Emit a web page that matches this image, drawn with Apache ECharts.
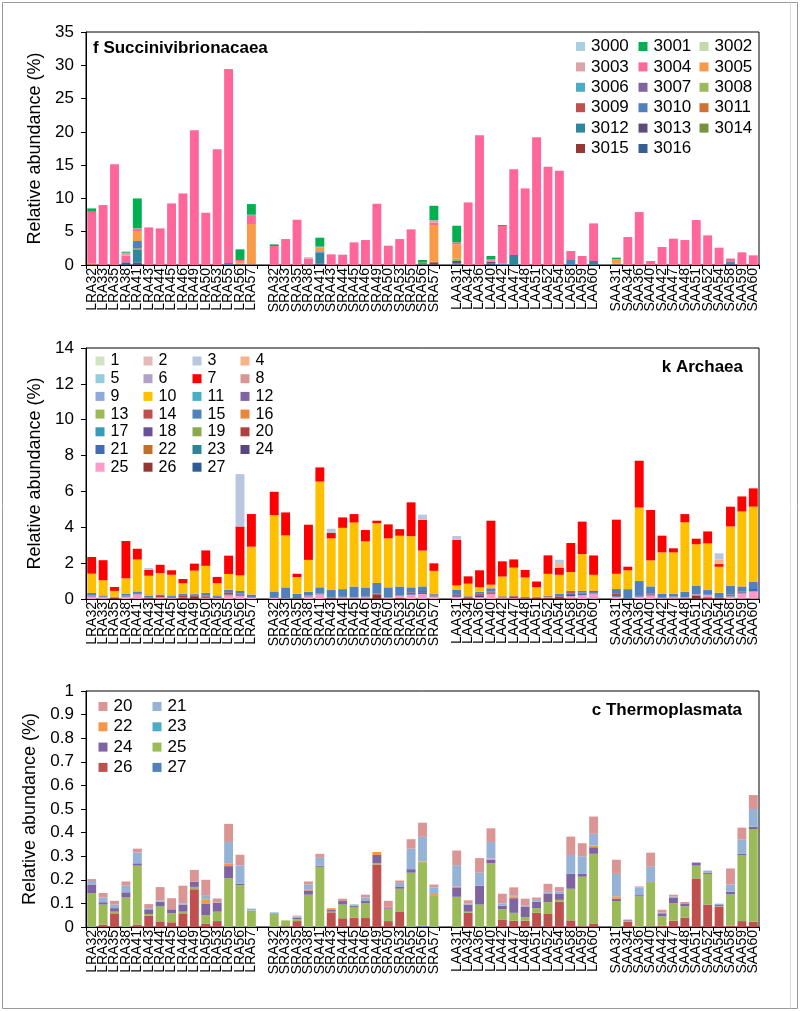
<!DOCTYPE html>
<html>
<head>
<meta charset="utf-8">
<script src="https://cdn.jsdelivr.net/npm/echarts@6/dist/echarts.min.js"></script>
<style>
html,body{margin:0;padding:0;background:#fff;}
#chart{width:800px;height:1011px;}
</style>
</head>
<body>
<div id="chart"></div>
<script>
// ---------- categories ----------
const samplesLRA = ['LRA32','LRA33','LRA35','LRA38','LRA41','LRA43','LRA44','LRA45','LRA46','LRA49','LRA50','LRA53','LRA55','LRA56','LRA57'];
const samplesSRA = ['SRA32','SRA33','SRA35','SRA38','SRA41','SRA43','SRA44','SRA45','SRA46','SRA49','SRA50','SRA53','SRA55','SRA56','SRA57'];
const samplesLAA = ['LAA31','LAA34','LAA36','LAA40','LAA42','LAA47','LAA48','LAA51','LAA52','LAA54','LAA58','LAA59','LAA60'];
const samplesSAA = ['SAA31','SAA34','SAA36','SAA40','SAA42','SAA47','SAA48','SAA51','SAA52','SAA54','SAA58','SAA59','SAA60'];

// ---------- panel f: Succinivibrionacaea (order: LRA | SRA | LAA | SAA) ----------
const f3001 = [0.5,0,0,0.15,4.5,0,0,0,0,0,0,0,0.1,1.6,1.6,
               0.25,0,0,0,1.35,0,0,0,0,0,0,0,0,0.35,2.15,
               2.5,0,0,0.5,0.15,0,0,0,0,0,0,0,0,
               0.2,0,0,0,0,0,0,0,0,0,0,0,0];
const f3003 = [0,0,0,0.45,0.1,0,0,0,0,0,0,0,0,0,0.05,
               0,0,0,0.2,0.1,0,0,0,0,0,0,0,0,0,0.4,
               0,0,0,0,0,0,0,0,0,0,0,0,0,
               0,0,0,0,0,0,0,0,0,0,0.1,0,0];
const f3004 = [7.8,9.0,15.15,1.0,0.4,5.65,5.5,9.25,10.75,20.25,7.85,17.4,29.0,0.25,1.35,
               2.85,3.9,6.8,0.9,0.1,1.6,1.55,3.4,3.75,9.2,2.9,3.9,5.35,0,0.35,
               0.3,9.4,19.5,0.2,5.65,12.9,11.5,19.2,14.75,14.15,1.35,1.35,5.65,
               0.1,4.2,7.95,0.6,2.7,3.95,3.75,6.75,4.45,2.6,0.35,1.9,1.45];
const f3005 = [0,0,0,0,1.4,0,0,0,0,0,0,0,0,0.3,6.05,
               0,0,0,0,0.5,0,0,0,0,0,0,0,0,0,5.5,
               2.1,0,0,0.2,0,0,0,0,0,0,0,0,0,
               0.6,0,0,0,0,0,0,0,0,0,0,0,0];
const f3008 = [0,0,0,0,0,0,0,0,0,0,0,0,0,0,0,
               0,0,0,0,0,0,0,0,0,0,0,0,0,0,0,
               0.4,0,0,0,0,0,0,0,0,0,0,0,0,
               0,0,0,0,0,0,0,0,0,0,0,0,0];
const f3010 = [0,0,0,0,1.1,0,0,0,0,0,0,0,0.3,0,0,
               0,0,0,0,0.2,0,0,0,0,0,0,0,0,0,0,
               0,0,0,0,0.2,0,0,0,0,0,0.75,0,0,
               0,0,0,0,0,0,0,0,0,0,0.45,0,0];
const f3011 = [0.2,0,0,0,0.2,0,0,0,0,0,0,0,0,0.1,0,
               0,0,0,0,0,0,0,0,0,0,0,0,0,0,0.2,
               0,0,0,0,0,0,0,0,0,0,0,0,0,
               0.1,0,0,0,0,0,0,0,0,0,0,0,0];
const f3012 = [0,0,0,0,1.9,0,0,0,0,0,0,0,0,0,0,
               0,0,0,0,1.6,0,0,0,0,0,0,0,0,0,0,
               0,0,0,0,0,1.5,0,0,0,0,0,0,0.6,
               0,0,0,0,0,0,0,0,0,0,0,0,0];
const f3013 = [0,0,0,0,0.4,0,0,0,0,0,0,0,0,0.1,0.1,
               0,0,0,0,0.25,0,0,0,0,0,0,0,0,0,0.3,
               0.3,0,0,0.25,0,0,0,0,0,0,0,0,0,
               0.1,0,0,0,0,0,0,0,0,0,0.1,0,0];
const f3014 = [0,0,0,0,0,0,0,0,0,0,0,0,0,0,0,
               0,0,0,0,0,0,0,0,0,0,0,0,0,0.3,0,
               0.2,0,0,0,0,0,0,0,0,0,0,0,0,
               0,0,0,0,0,0,0,0,0,0,0,0,0];
const f3016 = [0,0,0,0.4,0,0,0,0,0,0,0,0,0,0,0,
               0,0,0,0.05,0,0,0,0,0,0,0,0,0,0.1,0,
               0.1,0,0,0.2,0,0,0,0,0,0,0,0,0,
               0,0,0,0,0,0,0,0,0,0,0,0,0];

// ---------- panel c: Thermoplasmata (also groups 20-27 of panel k) ----------
const c20 = [0.008,0.019,0.016,0.018,0.017,0.017,0.056,0.047,0.075,0.05,0.065,0.016,0.077,0.045,0,
             0,0,0.003,0.013,0.017,0,0.01,0,0.012,0,0.026,0.01,0.04,0.06,0.012,
             0.062,0.013,0.062,0.058,0.041,0.033,0.03,0.01,0.03,0.019,0.078,0.055,0.073,
             0.06,0,0.004,0.06,0.012,0.007,0.006,0,0,0,0.068,0.051,0.059];
const c21 = [0.015,0.02,0.015,0.028,0.045,0.005,0.006,0,0.005,0,0.02,0.003,0.09,0.078,0.008,
             0.007,0,0.005,0.02,0.033,0,0,0.006,0.015,0,0,0.015,0.087,0.104,0.028,
             0.09,0.005,0.055,0.07,0.01,0.005,0.005,0.008,0.008,0.01,0.08,0.075,0.05,
             0.095,0,0.033,0.062,0.003,0.005,0,0,0.009,0.006,0.03,0.06,0.075];
const c22 = [0,0,0,0,0,0,0,0,0,0,0.015,0,0.012,0,0,
             0,0,0,0.005,0,0.008,0,0,0,0.013,0.005,0,0,0.003,0.005,
             0.004,0,0,0.005,0,0.008,0,0,0.005,0,0,0,0.007,
             0.01,0,0,0,0,0,0,0,0,0,0,0,0];
const c23 = [];
const c24 = [0.036,0.01,0.015,0.022,0.01,0.02,0.02,0.017,0.03,0.022,0.05,0.037,0.051,0.006,0,
             0,0,0.007,0.018,0.005,0.007,0.015,0.005,0.01,0.035,0.003,0.01,0.015,0,0,
             0.04,0.03,0.08,0.015,0.015,0.062,0.043,0.027,0.035,0.025,0.063,0.012,0.028,
             0.01,0.004,0.005,0.003,0.013,0.025,0.012,0.013,0.005,0.005,0.012,0.005,0.01];
const c25 = [0.144,0.085,0.007,0.125,0.25,0.007,0.063,0.038,0.007,0.01,0.035,0.04,0.207,0.177,0.07,
             0.055,0.025,0.008,0.137,0.255,0.003,0.058,0.045,0.062,0.005,0.052,0.096,0.23,0.27,0.135,
             0.128,0.005,0.095,0.27,0.045,0.033,0.015,0.02,0.05,0.007,0.134,0.21,0.295,
             0.11,0.005,0.13,0.187,0.04,0.073,0.048,0.054,0.13,0.003,0.133,0.28,0.393];
const c26 = [0,0.01,0.058,0,0.01,0.048,0.024,0.02,0.058,0.16,0.015,0.025,0,0,0,
             0,0.003,0.025,0,0,0.062,0.037,0.04,0.038,0.265,0.025,0.066,0,0,0,
             0,0.06,0,0,0.03,0.027,0.027,0.06,0.055,0.108,0.028,0.003,0.015,
             0,0.022,0,0.003,0.005,0.027,0.04,0.206,0.095,0.085,0.005,0.025,0.022];
const c27 = [0,0,0,0,0,0,0,0,0,0,0,0,0,0,0,
             0,0,0,0,0,0,0,0,0,0,0,0,0,0.005,0,
             0,0,0,0,0,0,0,0,0,0,0,0,0,
             0,0,0,0,0,0,0,0,0,0,0,0,0];

// ---------- panel k: Archaea ----------
const k3 = [0,0,0,0,0,0.11,0,0,0,0,0,0,0,2.92,0,
            0,0,0,0,0,0.22,0,0,0,0,0,0,0,0.28,0,
            0.21,0,0,0,0,0,0,0,0,0.19,0,0,0,
            0.06,0,0,0,0,0,0,0,0,0.35,0,0,0];
const k4 = [0,0,0,0,0,0,0,0,0,0,0,0,0,0,0,
            0,0,0,0,0,0,0,0,0,0,0,0,0,0,0,
            0,0,0,0,0,0,0,0,0,0.27,0,0,0,
            0,0,0,0,0,0,0,0,0,0.25,0,0,0];
const k7 = [0.93,1.12,0.22,2.08,0.6,0.32,0.46,0.25,0.24,0.39,0.86,0.35,1.02,2.73,1.82,
            1.3,1.28,0.18,1.96,0.79,0.32,0.58,0.47,0.63,0.14,0.78,0.37,1.89,1.72,0.42,
            2.55,0.41,0.95,3.57,0.85,0.46,0.42,0.32,1.03,0.38,1.62,1.81,1.08,
            3.0,0.2,2.61,2.81,0.93,0.23,0.46,0.31,0.67,0.15,1.1,0.84,1.02];
const k10 = [1.08,0.84,0.32,0.85,1.78,1.1,1.2,1.15,0.58,1.28,1.5,0.68,0.88,0.87,2.67,
             4.26,2.9,0.93,1.78,5.9,2.88,3.42,3.57,2.57,3.33,2.73,2.83,2.85,2.0,1.3,
             0.25,0.7,0.25,0.2,1.1,1.55,1.08,0.53,1.22,1.05,1.05,2.05,0.88,
             0.85,1.05,4.1,1.45,2.3,2.3,3.88,2.3,2.6,1.45,3.3,4.18,4.2];
const k15 = [0.13,0.06,0.02,0.11,0.09,0.1,0.08,0.08,0.12,0.06,0.15,0.08,0.08,0.14,0.17,
             0.36,0.62,0.25,0.21,0.34,0.42,0.43,0.6,0.51,0.58,0.54,0.5,0.28,0.26,0.09,
             0.18,0.04,0.11,0.18,0.01,0.03,0,0,0,0.13,0.07,0.1,0,
             0.27,0.52,0.83,0.39,0.23,0.16,0.29,0.48,0.26,0.25,0.5,0.28,0.39];

// ---------- tick labels ----------
const yTicksF = {min:0, max:35, interval:5};
const yTicksK = {min:0, max:14, interval:2};
const yTicksC = {min:0, max:1, interval:0.1};

// ---------- helpers ----------
const categories = [...samplesLRA, ' ', ...samplesSRA, '  ', ...samplesLAA, '   ', ...samplesSAA];
function withGaps(a){
  if(!a.length) return [];
  return [...a.slice(0,15), null, ...a.slice(15,30), null, ...a.slice(30,43), null, ...a.slice(43)];
}
const FONT = 'Liberation Sans, Arial, sans-serif';

const fSeries = [
  ['3000','#a9cfe3',[]],['3001','#00b050',f3001],['3002','#c4d9b0',[]],['3003','#d9a3a8',f3003],
  ['3004','#ff6699',f3004],['3005','#f99a48',f3005],['3006','#4bacc6',[]],['3007','#8064a2',[]],
  ['3008','#9bbb59',f3008],['3009','#c0504d',[]],['3010','#4f81bd',f3010],['3011','#d07133',f3011],
  ['3012','#31859c',f3012],['3013','#604a7b',f3013],['3014','#77933c',f3014],['3015','#953735',[]],
  ['3016','#376092',f3016]
];
const kSeries = [
  ['1','#d2e3c0',[]],['2','#e6b8b7',[]],['3','#b8c7e0',k3],['4','#f9b38a',k4],
  ['5','#93cddd',[]],['6','#b1a0c7',[]],['7','#ff0000',k7],['8','#d99694',[]],
  ['9','#8eaadb',[]],['10','#ffc000',k10],['11','#4bacc6',[]],['12','#8064a2',[]],
  ['13','#9bbb59',[]],['14','#c0504d',[]],['15','#4f81bd',k15],['16','#e8873c',[]],
  ['17','#3a9bb8',[]],['18','#6b4f98',[]],['19','#8aaa4a',[]],['20','#b0403e',c20],
  ['21','#3f6cb5',c21],['22','#c36f2a',c22],['23','#2f8398',c23],['24','#5b4580',c24],
  ['25','#ff99cc',c25],['26','#943634',c26],['27','#2e5b97',c27]
];
const cSeries = [
  ['20','#d99694',c20],['21','#95b3d7',c21],['22','#f79646',c22],['23','#4bacc6',c23],
  ['24','#8064a2',c24],['25','#9bbb59',c25],['26','#c0504d',c26],['27','#4f81bd',c27]
];

const grids = [
  {left:86, right:41, top:32, height:233},
  {left:86, right:41, top:348, height:251},
  {left:86, right:41, top:691, height:236}
].map(g => Object.assign({show:true, borderColor:'#000', borderWidth:1, backgroundColor:'transparent'}, g));

const xAxes = [0,1,2].map(i => ({
  type:'category', gridIndex:i, data:categories,
  axisLine:{lineStyle:{color:'#000', width:1}},
  axisTick:{show:true, length:4, lineStyle:{color:'#000'}},
  axisLabel:{rotate:90, interval:0, fontSize:14, margin:3, color:'#000', fontFamily:FONT}
}));
function yAxis(i, t, fmt){
  return {type:'value', gridIndex:i, min:t.min, max:t.max, interval:t.interval,
    name:'Relative abundance (%)', nameLocation:'middle', nameGap:41,
    nameTextStyle:{fontSize:18, color:'#000', fontFamily:FONT},
    axisLine:{show:true, lineStyle:{color:'#000'}},
    axisTick:{show:true, length:5, lineStyle:{color:'#000'}},
    splitLine:{show:false},
    axisLabel:{fontSize:17, color:'#000', margin:12, fontFamily:FONT, formatter:fmt}};
}
const yAxes = [
  yAxis(0, yTicksF, v => String(v)),
  yAxis(1, yTicksK, v => String(v)),
  yAxis(2, yTicksC, v => String(Number(v.toFixed(1))))
];

function build(prefix, list, gi){
  return list.slice().reverse().map(([n, col, d]) => ({
    type:'bar', name:prefix+n, stack:prefix, xAxisIndex:gi, yAxisIndex:gi,
    data:withGaps(d), itemStyle:{color:col}, barCategoryGap:'22%',
    emphasis:{disabled:true}
  }));
}
const series = [...build('f', fSeries, 0), ...build('k', kSeries, 1), ...build('c', cSeries, 2)];

function legend(prefix, names, left, top, gap, fs){
  return {orient:'vertical', left, top, itemGap:gap, itemWidth:9, itemHeight:9, icon:'rect',
    padding:0, selectedMode:false, data:names.map(n => prefix+n),
    formatter: n => n.slice(1),
    textStyle:{fontSize:fs, lineHeight:16, color:'#000', fontFamily:FONT, padding:[0,0,0,1]}};
}
const legends = [
  legend('f', ['3000','3003','3006','3009','3012','3015'], 576, 38, 3.4, 17),
  legend('f', ['3001','3004','3007','3010','3013','3016'], 638.5, 38, 3.4, 17),
  legend('f', ['3002','3005','3008','3011','3014'], 699.5, 38, 3.4, 17),
  legend('k', ['1','5','9','13','17','21','25'], 95.5, 353, 1.7, 16),
  legend('k', ['2','6','10','14','18','22','26'], 143.5, 353, 1.7, 16),
  legend('k', ['3','7','11','15','19','23','27'], 192.5, 353, 1.7, 16),
  legend('k', ['4','8','12','16','20','24'], 240.5, 353, 1.7, 16),
  legend('c', ['20','22','24','26'], 98.5, 698, 3.3, 17),
  legend('c', ['21','23','25','27'], 152.5, 698, 3.3, 17)
];

const titleStyle = {fontSize:17, fontWeight:'bold', color:'#000', fontFamily:FONT};
const option = {
  animation:false,
  backgroundColor:'#fff',
  title:[
    {text:'f Succinivibrionacaea', left:93, top:40, padding:0, textStyle:titleStyle},
    {text:'k Archaea', right:57, top:359, padding:0, textStyle:titleStyle},
    {text:'c Thermoplasmata', right:58, top:702, padding:0, textStyle:titleStyle}
  ],
  grid:grids, xAxis:xAxes, yAxis:yAxes, legend:legends, series,
  graphic:[
    {type:'rect', shape:{x:2.5, y:2.5, width:795, height:1006}, style:{fill:'none', stroke:'#9a9a9a', lineWidth:1}, silent:true},
    {type:'line', shape:{x1:790.5, y1:2.5, x2:790.5, y2:1008.5}, style:{stroke:'#dcdcdc', lineWidth:1}, silent:true}
  ]
};
const chart = echarts.init(document.getElementById('chart'), null, {renderer:'canvas'});
chart.setOption(option);
</script>
</body>
</html>
